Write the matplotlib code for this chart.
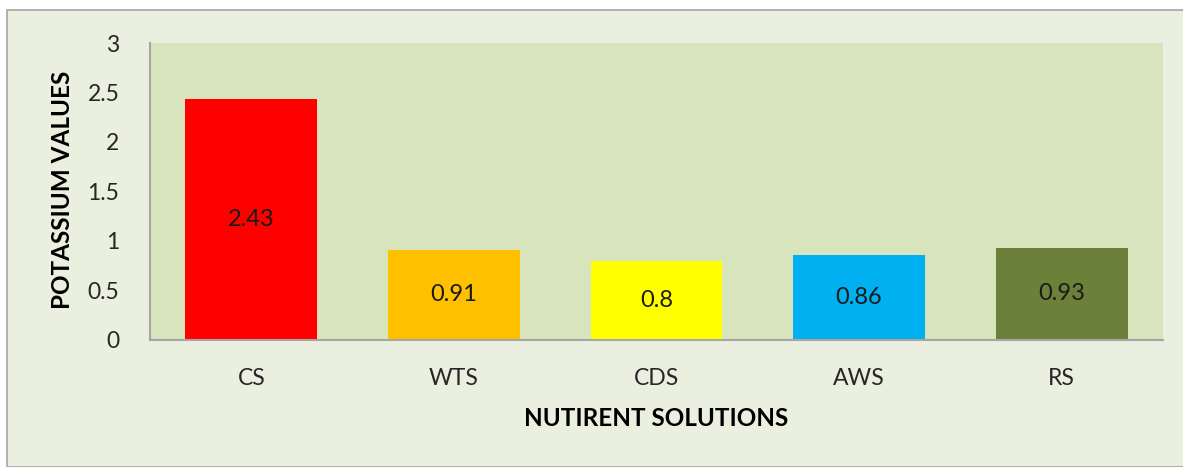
import matplotlib.pyplot as plt
from matplotlib.patches import Rectangle

# Potassium values per nutrient solution
solutions = ["CS", "WTS", "CDS", "AWS", "RS"]
potassium = [2.43, 0.91, 0.8, 0.86, 0.93]
labels = ["2.43", "0.91", "0.8", "0.86", "0.93"]
bar_colors = ["#FF0000", "#FFC000", "#FFFF00", "#00B0F0", "#6B8139"]
yticks = [0, 0.5, 1, 1.5, 2, 2.5, 3]
ytick_labels = ["0", "0.5", "1", "1.5", "2", "2.5", "3"]

plt.rcParams['font.family'] = ['Lato', 'DejaVu Sans']

W, H = 1183, 467
fig = plt.figure(figsize=(W / 100, H / 100), dpi=100)
fig.patch.set_facecolor("white")

# chart area with grey border (behind the axes)
fig.patches.append(Rectangle((7 / W, 0), 1.0, 1 - 10 / H, transform=fig.transFigure,
                             facecolor="#EBEFDF", edgecolor="#A6A6A6", linewidth=1.2, zorder=-5))

ax = fig.add_axes([150 / W, 1 - 340 / H, (1163 - 150) / W, (340 - 43) / H])
ax.set_zorder(1)
ax.set_facecolor("#D8E4BC")

x = range(len(solutions))
bars = ax.bar(x, potassium, width=0.65, color=bar_colors, zorder=2)
for b, lab in zip(bars, labels):
    ax.text(b.get_x() + b.get_width() / 2, b.get_height() / 2, lab,
            ha="center", va="center", fontsize=17, color="#1a1a1a", zorder=3)

ax.set_xlim(-0.5, len(solutions) - 0.5)
ax.set_ylim(0, 3)
ax.set_xticks(list(x))
ax.set_xticklabels(solutions, fontsize=16.5, color="#262626")
ax.set_yticks(yticks)
ax.set_yticklabels(ytick_labels, fontsize=16.5, color="#262626")
ax.tick_params(length=0)
ax.tick_params(axis="y", pad=22)
ax.tick_params(axis="x", pad=20)

for s in ["top", "right"]:
    ax.spines[s].set_visible(False)
for s in ["left", "bottom"]:
    ax.spines[s].set_color("#A6A6A6")
    ax.spines[s].set_linewidth(1.5)

ax.set_xlabel("NUTIRENT SOLUTIONS", fontsize=17.5, fontweight="bold", color="black")
ax.set_ylabel("POTASSIUM VALUES", fontsize=17.5, fontweight="bold", color="black")
ax.xaxis.label.set_va("center")
ax.yaxis.label.set_va("center")
ax.xaxis.set_label_coords(0.5, (340 - 419) / 297)
ax.yaxis.set_label_coords((62 - 150) / 1013, (340 - 190) / 297)

fig.savefig("out.png", dpi=100)
